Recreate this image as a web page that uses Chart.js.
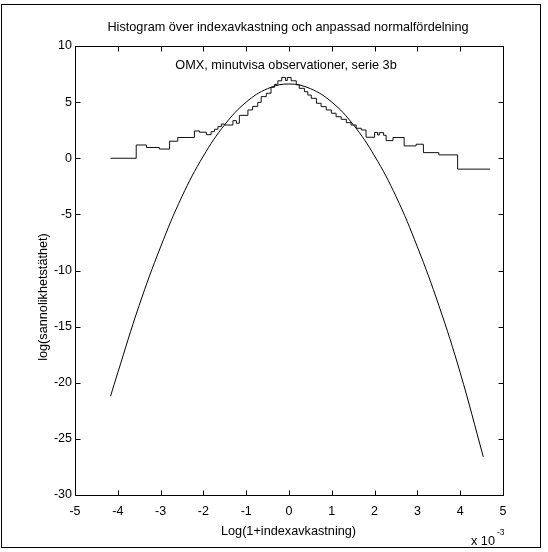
<!DOCTYPE html>
<html>
<head>
<meta charset="utf-8">
<script src="https://cdn.jsdelivr.net/npm/chart.js@4/dist/chart.umd.min.js"></script>
<style>
  html, body { margin: 0; padding: 0; background: #fff; }
  #wrap { position: relative; width: 548px; height: 552px; }
</style>
</head>
<body>
<div id="wrap">
  <canvas id="histChart" width="548" height="552"></canvas>
</div>
<script>
// x values are in units of 1e-3 (axis shows "x 10^-3")
const xTicks = [-5, -4, -3, -2, -1, 0, 1, 2, 3, 4, 5];
const yTicks = [-30, -25, -20, -15, -10, -5, 0, 5, 10];

// histogram: bin edges and log density of each bin
const histEdges = [-4.17, -3.57, -3.33, -3.03, -2.79, -2.60, -2.21, -2.09, -1.93, -1.82,
  -1.74, -1.66, -1.58, -1.51, -1.31, -1.23, -1.16, -0.96, -0.85, -0.73,
  -0.65, -0.53, -0.42, -0.34, -0.26, -0.17, -0.08, -0.04, 0.05, 0.17,
  0.24, 0.36, 0.44, 0.52, 0.64, 0.75, 0.87, 0.99, 1.10, 1.22,
  1.34, 1.45, 1.57, 1.69, 1.80, 2.00, 2.07, 2.11, 2.21, 2.27,
  2.43, 2.69, 2.97, 3.14, 3.50, 3.94, 4.70];
const histValues = [0.0, 1.18, 0.96, 0.82, 1.52, 1.85, 2.43, 2.32, 2.10,
  2.37, 2.58, 2.82, 3.05, 2.96, 3.35, 3.12, 3.82, 4.30, 4.62,
  4.98, 5.49, 5.79, 6.32, 6.58, 6.90, 7.20, 6.92, 7.20, 6.90,
  6.55, 6.23, 5.93, 5.63, 5.34, 4.90, 4.60, 4.30, 4.01, 3.70,
  3.47, 3.17, 2.96, 2.67, 2.52, 1.87, 2.30, 2.07, 2.28, 2.05,
  1.57, 1.85, 1.10, 1.25, 0.50, 0.30, -0.97];

// fitted normal distribution (log density)
const normX = [-4.17, -4.0, -3.5, -3.0, -2.5, -2.0, -1.5, -1.0, -0.5, 0,
  0.5, 1.0, 1.5, 2.0, 2.5, 3.0, 3.5, 4.0, 4.54];
const normY = [-21.2, -19.1, -13.1, -7.9, -3.4, 0.2, 3.0, 5.0, 6.2, 6.62,
  6.2, 5.0, 3.0, 0.2, -3.4, -7.9, -13.1, -19.1, -26.6];

const FONT = "'Liberation Sans', Arial, sans-serif";
const FS = 12.7;

// stairs: each value holds from its edge to the next edge
const histPoints = histValues.map((v, i) => ({ x: histEdges[i], y: v }));
histPoints.push({ x: histEdges[histEdges.length - 1], y: histValues[histValues.length - 1] });

const normPoints = normX.map((x, i) => ({ x: x, y: normY[i] }));

const matlabAxes = {
  id: "matlabAxes",
  afterDraw(chart) {
    const { ctx, chartArea: a, scales } = chart;
    const x = scales.x, y = scales.y;
    ctx.save();
    ctx.strokeStyle = "#000";
    ctx.lineWidth = 1;

    // figure frame
    ctx.strokeRect(1.5, 4.5, 539, 543);

    // axes box
    const l = Math.round(a.left) + 0.5, r = Math.round(a.right) + 0.5;
    const t = Math.round(a.top) + 0.5, b = Math.round(a.bottom) + 0.5;
    ctx.strokeRect(l, t, r - l, b - t);

    // inward ticks
    ctx.beginPath();
    xTicks.forEach((v) => {
      const px = Math.round(x.getPixelForValue(v)) + 0.5;
      ctx.moveTo(px, b); ctx.lineTo(px, b - 5);
      ctx.moveTo(px, t); ctx.lineTo(px, t + 5);
    });
    yTicks.forEach((v) => {
      const py = Math.round(y.getPixelForValue(v)) + 0.5;
      ctx.moveTo(l, py); ctx.lineTo(l + 5, py);
      ctx.moveTo(r, py); ctx.lineTo(r - 5, py);
    });
    ctx.stroke();

    // texts
    ctx.fillStyle = "#000";
    ctx.font = FS + "px " + FONT;
    ctx.textAlign = "center";
    ctx.textBaseline = "middle";
    ctx.fillText("Histogram över indexavkastning och anpassad normalfördelning", 288, 27);
    ctx.fillText("OMX, minutvisa observationer, serie 3b", x.getPixelForValue(-0.07), y.getPixelForValue(8.3));
    ctx.fillText("Log(1+indexavkastning)", 288.5, 531);

    ctx.textAlign = "left";
    ctx.fillText("x 10", 471, 541);
    ctx.font = "8.5px " + FONT;
    ctx.fillText("-3", 497, 533);

    ctx.font = FS + "px " + FONT;
    ctx.translate(43, 297);
    ctx.rotate(-Math.PI / 2);
    ctx.textAlign = "center";
    ctx.fillText("log(sannolikhetstäthet)", 0, 0);
    ctx.restore();
  }
};

new Chart(document.getElementById("histChart"), {
  type: "line",
  data: {
    datasets: [
      {
        label: "Histogram",
        data: histPoints,
        borderColor: "#111",
        borderWidth: 1,
        pointRadius: 0,
        stepped: true,
        fill: false,
      },
      {
        label: "Normalfördelning",
        data: normPoints,
        borderColor: "#000",
        borderWidth: 1,
        pointRadius: 0,
        tension: 0.4,
        fill: false,
      },
    ],
  },
  options: {
    responsive: false,
    animation: false,
    layout: { padding: { left: 0, top: 46, right: 45, bottom: 0 } },
    plugins: {
      legend: { display: false },
      title: { display: false },
      tooltip: { enabled: false },
    },
    scales: {
      x: {
        type: "linear",
        min: -5,
        max: 5,
        afterBuildTicks: (s) => { s.ticks = xTicks.map((v) => ({ value: v })); },
        afterFit: (s) => { s.height = 57; },
        grid: { display: false, drawTicks: false },
        border: { display: false },
        ticks: { color: "#000", font: { family: FONT, size: 12.5 }, padding: 9, maxRotation: 0 },
      },
      y: {
        type: "linear",
        min: -30,
        max: 10,
        afterBuildTicks: (s) => { s.ticks = yTicks.map((v) => ({ value: v })); },
        afterFit: (s) => { s.width = 75; },
        grid: { display: false, drawTicks: false },
        border: { display: false },
        ticks: { color: "#000", font: { family: FONT, size: 12.5 }, padding: 3 },
      },
    },
  },
  plugins: [matlabAxes],
});
</script>
</body>
</html>
